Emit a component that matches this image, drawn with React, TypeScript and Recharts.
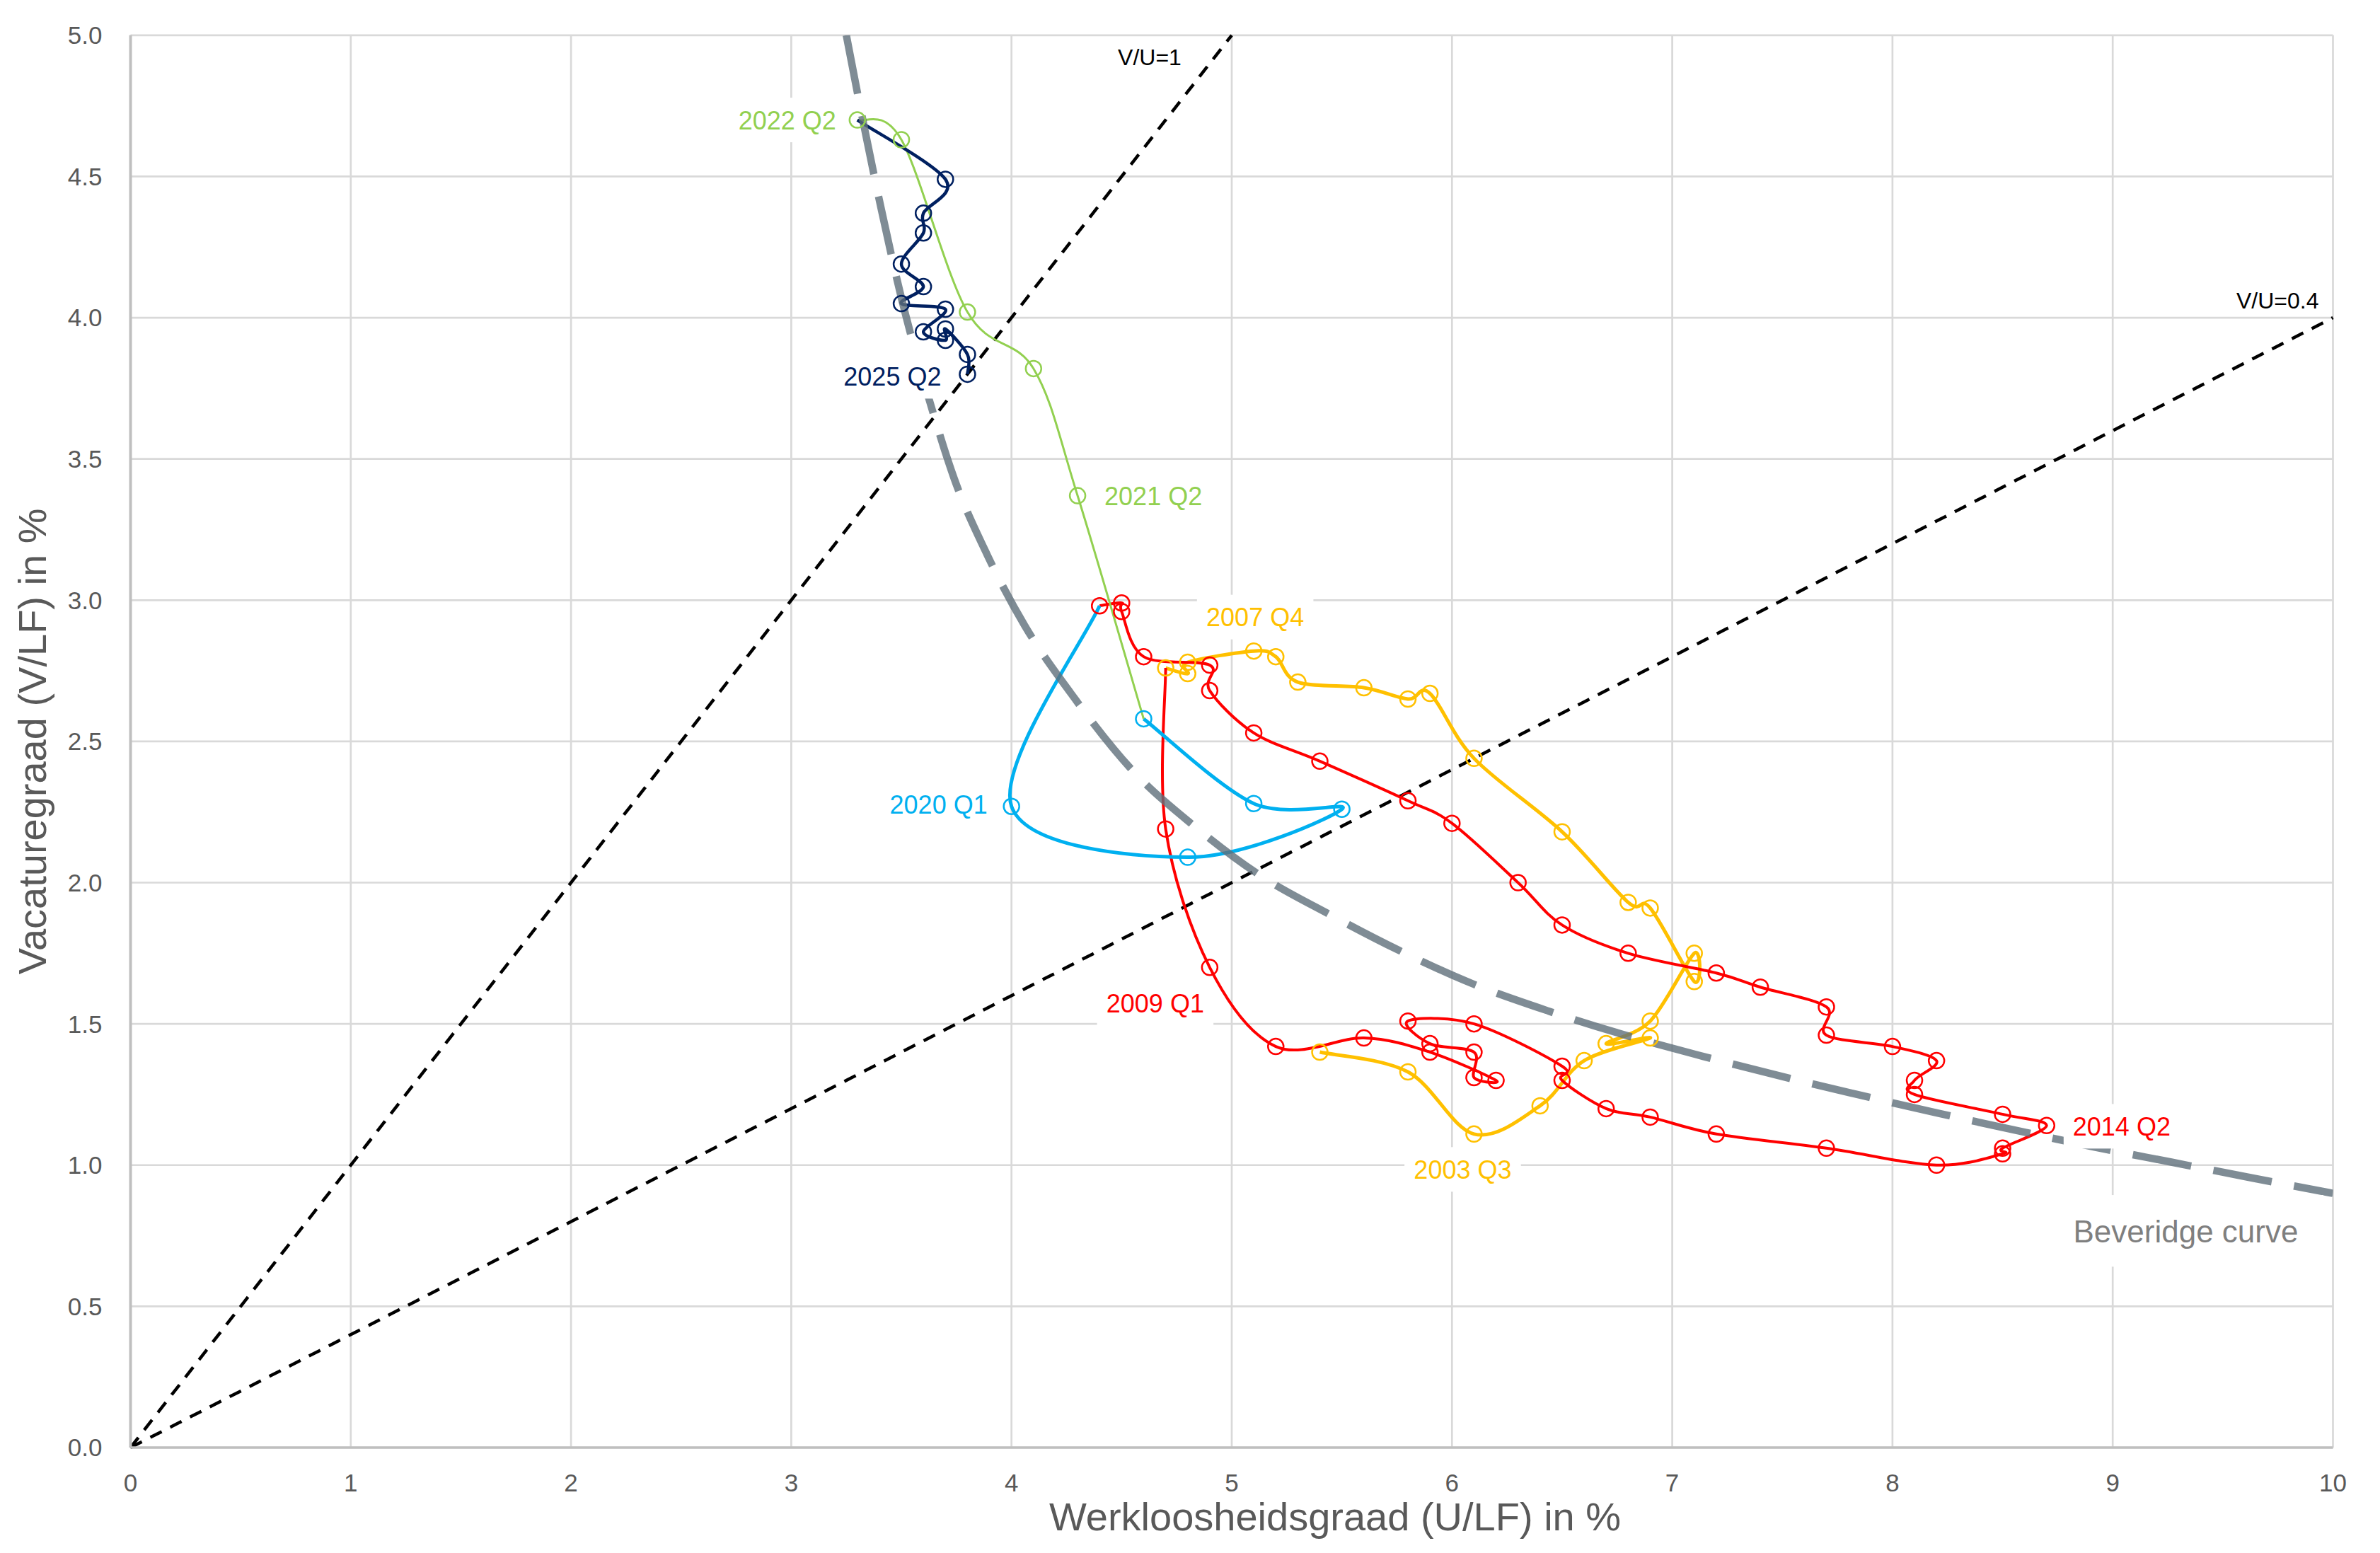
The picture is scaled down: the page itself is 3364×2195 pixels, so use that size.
import React from 'react';
import { ComposedChart, Line, XAxis, YAxis, CartesianGrid, ReferenceLine, ReferenceDot } from 'recharts';

const FONT = '"Liberation Sans", Arial, sans-serif';

const xTicks = [0, 1, 2, 3, 4, 5, 6, 7, 8, 9, 10];
const yTicks = [0, 0.5, 1, 1.5, 2, 2.5, 3, 3.5, 4, 4.5, 5];

// [U/LF, V/LF] per kwartaal
const yellowPts = [
  [5.4, 1.4], [5.8, 1.33], [6.1, 1.11], [6.4, 1.21], [6.6, 1.37], [6.9, 1.45], [6.7, 1.43],
  [6.9, 1.51], [7.1, 1.75], [7.1, 1.65], [6.9, 1.91], [6.8, 1.93], [6.5, 2.18], [6.1, 2.44],
  [5.9, 2.67], [5.8, 2.65], [5.6, 2.69], [5.3, 2.71], [5.2, 2.8], [5.1, 2.82], [4.8, 2.78],
  [4.8, 2.74], [4.7, 2.76],
];
const redPts = [
  [4.7, 2.76], [4.7, 2.19], [4.9, 1.7], [5.2, 1.42], [5.6, 1.45], [5.9, 1.4], [6.2, 1.3],
  [6.1, 1.31], [6.1, 1.4], [5.9, 1.43], [5.8, 1.51], [6.1, 1.5], [6.5, 1.35], [6.5, 1.3],
  [6.7, 1.2], [6.9, 1.17], [7.2, 1.11], [7.7, 1.06], [8.2, 1.0], [8.5, 1.04], [8.5, 1.06],
  [8.7, 1.14], [8.5, 1.18], [8.1, 1.25], [8.1, 1.3], [8.2, 1.37], [8.0, 1.42], [7.7, 1.46],
  [7.7, 1.56], [7.4, 1.63], [7.2, 1.68], [6.8, 1.75], [6.5, 1.85], [6.3, 2.0], [6.0, 2.21],
  [5.8, 2.29], [5.4, 2.43], [5.1, 2.53], [4.9, 2.68], [4.9, 2.77], [4.6, 2.8], [4.5, 2.96],
  [4.5, 2.99], [4.4, 2.98],
];
const cyanPts = [[4.4, 2.98], [4.0, 2.27], [4.8, 2.09], [5.5, 2.26], [5.1, 2.28], [4.6, 2.58]];
const greenPts = [[4.6, 2.58], [4.3, 3.37], [4.1, 3.82], [3.8, 4.02], [3.5, 4.63], [3.3, 4.7]];
const navyPts = [
  [3.3, 4.7], [3.7, 4.49], [3.6, 4.37], [3.6, 4.3], [3.5, 4.19], [3.6, 4.11], [3.5, 4.05],
  [3.7, 4.03], [3.6, 3.95], [3.7, 3.92], [3.7, 3.96], [3.8, 3.87], [3.8, 3.8],
];
const beveridgePts = [
  [3.25, 5.0], [3.33, 4.68], [3.41, 4.38], [3.5, 4.07], [3.56, 3.89], [3.63, 3.7], [3.74, 3.43],
  [3.89, 3.16], [4.06, 2.91], [4.27, 2.67], [4.57, 2.38], [4.83, 2.2], [5.12, 2.03], [5.45, 1.885],
  [5.76, 1.76], [6.1, 1.64], [6.44, 1.545], [6.81, 1.455], [7.14, 1.385], [7.57, 1.3], [7.84, 1.25],
  [8.2, 1.185], [8.55, 1.125], [8.91, 1.065], [9.27, 1.01], [9.63, 0.955], [10.0, 0.9],
];
const ratioOne = [[0, 0], [5, 5]];
const ratioLow = [[0, 0], [10, 4]];

const pointLabels = [
  { text: '2003 Q3', series: 'yellow', index: 2 },
  { text: '2007 Q4', series: 'yellow', index: 19 },
  { text: '2009 Q1', series: 'red', index: 2 },
  { text: '2014 Q2', series: 'red', index: 21 },
  { text: '2020 Q1', series: 'cyan', index: 1 },
  { text: '2021 Q2', series: 'green', index: 1 },
  { text: '2022 Q2', series: 'green', index: 5 },
  { text: '2025 Q2', series: 'navy', index: 12 },
];

const toXY = (arr: number[][]) => arr.map(([x, y]) => ({ x, y }));

// linked: eerste punt valt samen met het laatste punt van de vorige reeks
const series: Record<string, { data: number[][]; color: string; width: number; linked: boolean }> = {
  yellow: { data: yellowPts, color: '#FFC000', width: 5, linked: false },
  red: { data: redPts, color: '#FF0000', width: 4, linked: true },
  cyan: { data: cyanPts, color: '#00B0F0', width: 5, linked: true },
  green: { data: greenPts, color: '#92D050', width: 3, linked: true },
  navy: { data: navyPts, color: '#002060', width: 4.5, linked: true },
};

const placement: Record<string, { dx: number; dy: number; anchor: string }> = {
  '2003 Q3': { dx: -16, dy: 50, anchor: 'middle' },
  '2007 Q4': { dx: 2, dy: -48, anchor: 'middle' },
  '2009 Q1': { dx: -77, dy: 51, anchor: 'middle' },
  '2014 Q2': { dx: 37, dy: 1, anchor: 'start' },
  '2020 Q1': { dx: -34, dy: -3, anchor: 'end' },
  '2021 Q2': { dx: 38, dy: 0, anchor: 'start' },
  '2022 Q2': { dx: -30, dy: 0, anchor: 'end' },
  '2025 Q2': { dx: -37, dy: 3, anchor: 'end' },
};

// Excel-achtige gladde lijn (Catmull-Rom als bezier)
function excelSmooth(context: any) {
  let pts: number[][] = [];
  return {
    areaStart() {},
    areaEnd() {},
    lineStart() {
      pts = [];
    },
    point(x: number, y: number) {
      pts.push([x, y]);
    },
    lineEnd() {
      const n = pts.length;
      if (!n) return;
      context.moveTo(pts[0][0], pts[0][1]);
      for (let i = 0; i < n - 1; i++) {
        const p0 = pts[i - 1] || pts[i];
        const p1 = pts[i];
        const p2 = pts[i + 1];
        const p3 = pts[i + 2] || p2;
        context.bezierCurveTo(
          p1[0] + (p2[0] - p0[0]) / 6,
          p1[1] + (p2[1] - p0[1]) / 6,
          p2[0] - (p3[0] - p1[0]) / 6,
          p2[1] - (p3[1] - p1[1]) / 6,
          p2[0],
          p2[1],
        );
      }
    },
  };
}

function Annotation(props: any) {
  const { viewBox, text, color, dx, dy, anchor, size, box, boxH } = props;
  if (!viewBox) return null;
  const x = viewBox.x + (viewBox.width || 0) / 2 + dx;
  const y = viewBox.y + (viewBox.height || 0) / 2 + dy;
  const w = text.length * size * 0.55 + 26;
  const h = size * (boxH || 1.75);
  const left = anchor === 'start' ? x - 13 : anchor === 'end' ? x - w + 13 : x - w / 2;
  return (
    <g>
      {box && <rect x={left} y={y - h / 2} width={w} height={h} fill="#ffffff" />}
      <text x={x} y={y} dy="0.36em" textAnchor={anchor} fill={color} fontSize={size} fontFamily={FONT}>
        {text}
      </text>
    </g>
  );
}

function AxisTitle(props: any) {
  const { viewBox, text, dx, dy, vertical } = props;
  if (!viewBox) return null;
  if (vertical) {
    const x = viewBox.x + dx;
    const y = viewBox.y + viewBox.height / 2;
    return (
      <text x={x} y={y} dy="0.36em" textAnchor="middle" transform={`rotate(-90 ${x} ${y})`} fill="#595959" fontSize={56} fontFamily={FONT}>
        {text}
      </text>
    );
  }
  const x = viewBox.x + viewBox.width / 2 + dx;
  const y = viewBox.y + dy;
  return (
    <text x={x} y={y} dy="0.36em" textAnchor="middle" fill="#595959" fontSize={56} fontFamily={FONT}>
      {text}
    </text>
  );
}

function makeDot(color: string, linked: boolean) {
  return (p: any) => {
    if ((linked && p.index === 0) || p.cx == null || p.cy == null) return <g key={`d-${p.index}`} />;
    return <circle key={`d-${p.index}`} cx={p.cx} cy={p.cy} r={11} fill="none" stroke={color} strokeWidth={2.5} />;
  };
}

export default function App() {
  const tick = { fill: '#595959', fontSize: 35, fontFamily: FONT };
  const one = toXY(ratioOne);
  const low = toXY(ratioLow);
  const bev = toXY(beveridgePts);
  return (
    <div style={{ position: 'absolute', left: 0, top: 0, width: 3364, height: 2195, background: '#ffffff' }}>
      <ComposedChart width={3364} height={2195} margin={{ top: 49.8, right: 66.5, bottom: 0, left: 0 }}>
        <CartesianGrid stroke="#d9d9d9" strokeWidth={2.7} />
        <XAxis
          type="number"
          dataKey="x"
          domain={[0, 10]}
          ticks={xTicks}
          interval={0}
          height={149}
          tickLine={false}
          tickSize={0}
          tickMargin={37}
          tick={tick}
          axisLine={{ stroke: '#bfbfbf', strokeWidth: 3.5 }}
          allowDataOverflow
          label={<AxisTitle text="Werkloosheidsgraad (U/LF) in %" dx={146} dy={97} />}
        />
        <YAxis
          type="number"
          domain={[0, 5]}
          ticks={yTicks}
          interval={0}
          width={184.5}
          tickLine={false}
          tickSize={0}
          tickMargin={40}
          tick={tick}
          tickFormatter={(v: number) => v.toFixed(1)}
          axisLine={{ stroke: '#bfbfbf', strokeWidth: 4 }}
          allowDataOverflow
          label={<AxisTitle text="Vacaturegraad (V/LF) in %" dx={45} vertical />}
        />
        <ReferenceLine segment={[one[0], one[1]]} stroke="#000" strokeWidth={4.5} strokeDasharray="18 13.5" ifOverflow="visible" />
        <ReferenceLine segment={[low[0], low[1]]} stroke="#000" strokeWidth={4.5} strokeDasharray="18 13.5" ifOverflow="visible" />
        {Object.entries(series).map(([key, s]) => (
          <Line
            key={key}
            data={toXY(s.data)}
            dataKey="y"
            type={excelSmooth as any}
            stroke={s.color}
            strokeWidth={s.width}
            dot={makeDot(s.color, s.linked)}
            activeDot={false}
            isAnimationActive={false}
          />
        ))}
        <Line
          data={bev}
          dataKey="y"
          type="monotone"
          stroke="#5f6f7a"
          strokeOpacity={0.8}
          strokeWidth={10.5}
          strokeDasharray="84 32"
          dot={false}
          activeDot={false}
          isAnimationActive={false}
        />
        {pointLabels.map((l) => {
          const s = series[l.series];
          const [x, y] = s.data[l.index];
          const p = placement[l.text];
          return (
            <ReferenceDot
              key={l.text}
              x={x}
              y={y}
              r={0}
              stroke="none"
              ifOverflow="visible"
              label={<Annotation text={l.text} color={s.color} dx={p.dx} dy={p.dy} anchor={p.anchor} size={36} box />}
            />
          );
        })}
        <ReferenceDot
          x={one[1].x}
          y={one[1].y}
          r={0}
          stroke="none"
          ifOverflow="visible"
          label={<Annotation text="V/U=1" color="#000000" dx={-116} dy={31} anchor="middle" size={32} />}
        />
        <ReferenceDot
          x={low[1].x}
          y={low[1].y}
          r={0}
          stroke="none"
          ifOverflow="visible"
          label={<Annotation text="V/U=0.4" color="#000000" dx={-20} dy={-25} anchor="end" size={32} />}
        />
        <ReferenceDot
          x={bev[bev.length - 1].x}
          y={bev[bev.length - 1].y}
          r={0}
          stroke="none"
          ifOverflow="visible"
          label={<Annotation text="Beveridge curve" color="#7f7f7f" dx={-208} dy={53} anchor="middle" size={44} box boxH={2.3} />}
        />
      </ComposedChart>
    </div>
  );
}
